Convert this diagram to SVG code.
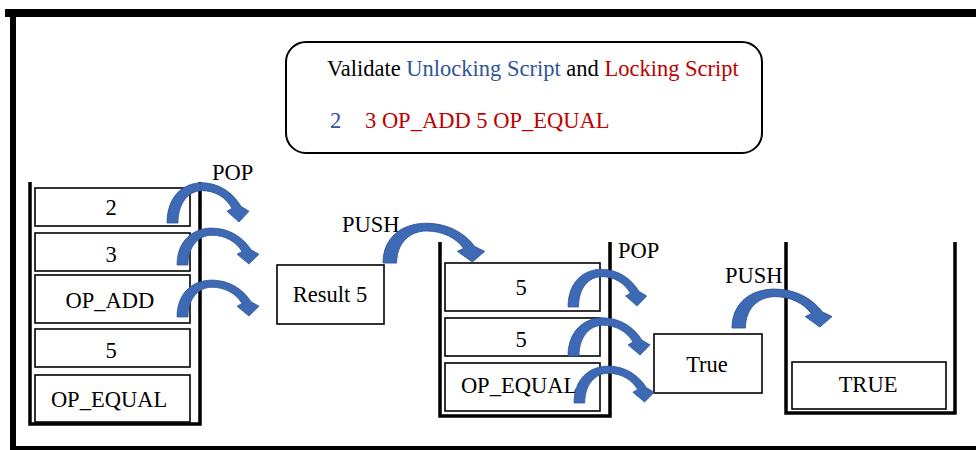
<svg xmlns="http://www.w3.org/2000/svg" xmlns:xlink="http://www.w3.org/1999/xlink" width="976" height="450" viewBox="0 0 976 450">
  <style>
    text { font-family: "Liberation Serif", "Times New Roman", serif; font-size: 22.5px; fill: #000; }
    .mid { text-anchor: middle; }
    .blue { fill: #2f5597; }
    .red { fill: #c00000; }
    .cell { fill: #fff; stroke: #000; stroke-width: 1.6; }
    .wall { fill: none; stroke: #000; stroke-width: 3.5; stroke-linejoin: miter; }
    .arc { fill: #3d69b5; stroke: #2f5597; stroke-width: 0.8; }
  </style>
  <defs>
    <!-- curved block arrow, base-left corner at origin, tip at (72,-1) -->
    <path id="curved" d="M0,0 C0,-26 15,-41 35,-41 C52,-41 66,-31 74,-17 L82,-12 L72,-1 L60,-12 L65,-15 C59,-26 48,-33 35,-33 C22,-33 11,-21 11,0 Z"/>
  </defs>

  <rect width="976" height="450" fill="#fff"/>

  <!-- outer frame -->
  <g id="frame">
    <rect x="5" y="9" width="971" height="8" fill="#000"/>
    <rect x="10" y="9" width="6" height="441" fill="#000"/>
    <rect x="10" y="446" width="966" height="4" fill="#000"/>
  </g>

  <!-- script header -->
  <g id="header">
    <rect x="286" y="42" width="476" height="111" rx="20" ry="20" fill="#fff" stroke="#000" stroke-width="2"/>
    <text x="327" y="76">Validate <tspan class="blue">Unlocking Script</tspan> and <tspan class="red">Locking Script</tspan></text>
    <text x="330" y="128" class="blue">2</text>
    <text x="365" y="128" class="red">3 OP_ADD 5 OP_EQUAL</text>
  </g>

  <!-- initial stack -->
  <g id="stack1">
    <polyline class="wall" points="30,182 30,424 200,424 200,182"/>
    <rect class="cell" x="35" y="188" width="155" height="38"/>
    <text class="mid" x="111" y="215">2</text>
    <rect class="cell" x="35" y="233" width="155" height="38"/>
    <text class="mid" x="111" y="262">3</text>
    <rect class="cell" x="35" y="275" width="155" height="48"/>
    <text class="mid" x="110" y="308">OP_ADD</text>
    <rect class="cell" x="35" y="329" width="155" height="38"/>
    <text class="mid" x="111" y="358">5</text>
    <rect class="cell" x="35" y="375" width="155" height="47"/>
    <text class="mid" x="109" y="407">OP_EQUAL</text>
  </g>

  <g id="result">
    <rect class="cell" x="277" y="265" width="107" height="59"/>
    <text class="mid" x="330" y="302">Result 5</text>
  </g>

  <!-- stack after OP_ADD -->
  <g id="stack2">
    <polyline class="wall" points="440,242 440,416 610,416 610,242"/>
    <rect class="cell" x="445" y="263" width="155" height="48"/>
    <text class="mid" x="521" y="295">5</text>
    <rect class="cell" x="445" y="318" width="155" height="38"/>
    <text class="mid" x="521" y="347">5</text>
    <rect class="cell" x="445" y="363" width="155" height="48"/>
    <text class="mid" x="519" y="393">OP_EQUAL</text>
  </g>

  <g id="true">
    <rect class="cell" x="654" y="334" width="108" height="59"/>
    <text class="mid" x="707" y="372">True</text>
  </g>

  <!-- final stack -->
  <g id="stack3">
    <polyline class="wall" points="786,242 786,413 955,413 955,242"/>
    <rect class="cell" x="792" y="362" width="154" height="47"/>
    <text class="mid" x="868" y="392">TRUE</text>
  </g>

  <!-- operation labels -->
  <g id="labels">
    <text x="212" y="180">POP</text>
    <text x="342" y="232">PUSH</text>
    <text x="618" y="258">POP</text>
    <text x="725" y="283">PUSH</text>
  </g>

  <!-- pop / push arrows -->
  <g id="connectors">
    <use xlink:href="#curved" class="arc" transform="translate(167,223) scale(1,0.98)"/>
    <use xlink:href="#curved" class="arc" transform="translate(177,265) scale(1,0.9)"/>
    <use xlink:href="#curved" class="arc" transform="translate(177,317) scale(1,0.9)"/>
    <use xlink:href="#curved" class="arc" transform="translate(383,263) scale(1.24,0.97)"/>
    <use xlink:href="#curved" class="arc" transform="translate(568,307) scale(0.96,0.92)"/>
    <use xlink:href="#curved" class="arc" transform="translate(568,356) scale(1,0.93)"/>
    <use xlink:href="#curved" class="arc" transform="translate(574,403) scale(0.98,0.9)"/>
    <use xlink:href="#curved" class="arc" transform="translate(732,328) scale(1.22,0.95)"/>
  </g>
</svg>
